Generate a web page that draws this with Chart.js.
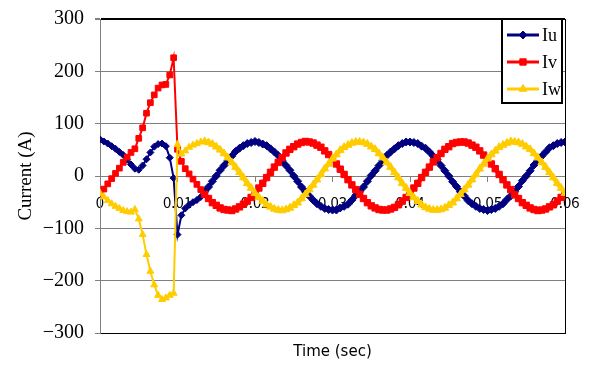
<!DOCTYPE html>
<html>
<head>
<meta charset="utf-8">
<script src="https://cdn.jsdelivr.net/npm/chart.js@4/dist/chart.umd.min.js"></script>
<style>
  html, body { margin: 0; padding: 0; background: #ffffff; }
  #wrap { width: 600px; height: 382px; }
</style>
</head>
<body>
<div id="wrap"><canvas id="c" width="600" height="382"></canvas></div>
<script>
// ---- data ----
const timeSec = [
  0,0.0005,0.001,0.0015,0.002,0.0025,0.003,0.0035,0.004,0.0045,
  0.005,0.0055,0.006,0.0065,0.007,0.0075,0.008,0.0085,0.009,0.0095,
  0.01,0.0105,0.011,0.0115,0.012,0.0125,0.013,0.0135,0.014,0.0145,
  0.015,0.0155,0.016,0.0165,0.017,0.0175,0.018,0.0185,0.019,0.0195,
  0.02,0.0205,0.021,0.0215,0.022,0.0225,0.023,0.0235,0.024,0.0245,
  0.025,0.0255,0.026,0.0265,0.027,0.0275,0.028,0.0285,0.029,0.0295,
  0.03,0.0305,0.031,0.0315,0.032,0.0325,0.033,0.0335,0.034,0.0345,
  0.035,0.0355,0.036,0.0365,0.037,0.0375,0.038,0.0385,0.039,0.0395,
  0.04,0.0405,0.041,0.0415,0.042,0.0425,0.043,0.0435,0.044,0.0445,
  0.045,0.0455,0.046,0.0465,0.047,0.0475,0.048,0.0485,0.049,0.0495,
  0.05,0.0505,0.051,0.0515,0.052,0.0525,0.053,0.0535,0.054,0.0545,
  0.055,0.0555,0.056,0.0565,0.057,0.0575,0.058,0.0585,0.059,0.0595,
  0.06
];
const iu = [
  70, 66, 62, 57, 52, 46, 40, 31, 22, 14,
  12, 20, 32, 45, 56, 61, 62, 57, 35, -4,
  -112, -75, -62, -55, -50, -46, -40, -30, -21, -10,
  0, 11, 20, 29, 38, 47, 53, 58, 62, 64,
  66, 64, 61, 58, 52, 46, 39, 29, 20, 11,
  0, -10, -21, -30, -38, -46, -53, -58, -62, -64,
  -65, -65, -61, -58, -54, -46, -37, -30, -21, -10,
  1, 10, 20, 30, 39, 46, 52, 58, 62, 65,
  65, 64, 62, 57, 53, 46, 38, 31, 20, 10,
  0, -11, -20, -30, -38, -47, -53, -58, -62, -64,
  -66, -64, -62, -58, -53, -45, -38, -30, -20, -9,
  0, 10, 21, 30, 38, 46, 54, 58, 62, 64,
  65
];
const iv = [
  -33, -25, -15, -5, 5, 15, 26, 36, 45, 52,
  72, 92, 120, 140, 155, 168, 174, 175, 193, 226,
  51, 28, 14, 4, -6, -16, -26, -35, -43, -51,
  -56, -61, -64, -65, -66, -63, -59, -54, -48, -41,
  -33, -23, -14, -3, 7, 17, 26, 35, 44, 51,
  56, 61, 64, 66, 65, 63, 59, 55, 48, 41,
  33, 23, 13, 3, -7, -17, -26, -35, -43, -51,
  -57, -61, -64, -65, -65, -63, -60, -55, -48, -41,
  -32, -23, -14, -3, 7, 17, 27, 35, 43, 51,
  56, 62, 64, 65, 65, 63, 59, 55, 48, 40,
  33, 23, 14, 3, -7, -17, -26, -36, -43, -51,
  -56, -61, -64, -66, -65, -63, -59, -55, -48, -41,
  -33
];
const iw = [
  -33, -40, -47, -53, -58, -62, -66, -68, -69, -64,
  -82, -112, -150, -182, -208, -228, -236, -233, -228, -224,
  60, 42, 48, 55, 59, 62, 65, 66, 64, 61,
  56, 50, 43, 35, 26, 17, 7, -3, -14, -23,
  -33, -41, -48, -55, -59, -63, -65, -66, -64, -61,
  -56, -51, -43, -35, -26, -17, -7, 3, 14, 23,
  33, 41, 49, 55, 59, 63, 65, 65, 64, 61,
  56, 51, 43, 35, 26, 17, 7, -3, -14, -23,
  -33, -41, -48, -55, -60, -63, -65, -65, -64, -61,
  -56, -51, -43, -35, -26, -17, -7, 3, 14, 23,
  33, 41, 48, 55, 59, 63, 66, 65, 64, 61,
  56, 51, 43, 35, 26, 17, 7, -3, -14, -23,
  -33
];
const seriesNames = ['Iu', 'Iv', 'Iw'];
const xTickLabels = ['0', '0.01', '0.02', '0.03', '0.04', '0.05', '0.06'];
const yTickLabels = ['\u2212300', '\u2212200', '\u2212100', '0', '100', '200', '300'];
const xTitle = 'Time (sec)';
const yTitle = 'Current (A)';

// ---- styles ----
const colors = ['#000080', '#ff0000', '#ffcc00'];
const styles = ['rectRot', 'rect', 'triangle'];
const radii = [3.5, 4, 4];
const GRAY = '#808080';
const SETTLED = 0.0132; // after this time the traces are drawn as a dense band

function pts(arr) { return timeSec.map((t, i) => ({ x: t, y: arr[i] })); }
const values = [iu, iv, iw];

const datasets = seriesNames.map((name, i) => ({
  label: name,
  data: pts(values[i]),
  borderColor: colors[i],
  backgroundColor: colors[i],
  borderWidth: 2,
  segment: {
    borderWidth: (c) => (c.p0.parsed.x >= SETTLED ? 4.5 : 2)
  },
  pointStyle: styles[i],
  pointRadius: (c) => (c.parsed && c.parsed.x >= SETTLED ? radii[i] + 0.5 : radii[i]),
  pointBorderWidth: 1,
  pointBackgroundColor: colors[i],
  pointBorderColor: colors[i],
  tension: 0,
  fill: false,
  order: 3 - i
}));

const framePlugin = {
  id: 'frame',
  beforeDatasetsDraw(chart) {
    const { ctx, chartArea: a } = chart;
    ctx.save();
    ctx.strokeStyle = '#000';
    ctx.lineWidth = 1;
    ctx.beginPath();
    ctx.moveTo(a.right + 0.5, a.top);
    ctx.lineTo(a.right + 0.5, a.bottom);
    ctx.stroke();
    ctx.restore();
  }
};

const legendPlugin = {
  id: 'boxLegend',
  afterDatasetsDraw(chart) {
    const { ctx, chartArea: a } = chart;
    const w = 60, h = 84;
    const x0 = a.right - 3 - w, y0 = a.top;
    ctx.save();
    ctx.fillStyle = '#fff';
    ctx.fillRect(x0, y0, w, h);
    ctx.strokeStyle = '#000';
    ctx.lineWidth = 2;
    ctx.strokeRect(x0, y0, w, h);
    chart.data.datasets.forEach((ds, i) => {
      const y = y0 + 16 + i * 27;
      ctx.strokeStyle = ds.borderColor;
      ctx.lineWidth = 3;
      ctx.beginPath();
      ctx.moveTo(x0 + 5, y);
      ctx.lineTo(x0 + 37, y);
      ctx.stroke();
      ctx.fillStyle = ds.borderColor;
      ctx.lineWidth = 1;
      if (Chart.helpers && Chart.helpers.drawPoint) {
        Chart.helpers.drawPoint(ctx, { pointStyle: ds.pointStyle, radius: radii[i] + 0.5, rotation: 0, borderWidth: 1 }, x0 + 21, y);
      }
      ctx.fillStyle = '#000';
      ctx.font = '18px "Liberation Serif"';
      ctx.textBaseline = 'middle';
      ctx.textAlign = 'left';
      ctx.fillText(ds.label, x0 + 40, y + 1);
    });
    ctx.restore();
  }
};

new Chart(document.getElementById('c'), {
  type: 'line',
  data: { datasets },
  plugins: [framePlugin, legendPlugin],
  options: {
    responsive: false,
    animation: false,
    devicePixelRatio: 1,
    layout: { padding: { top: 19, right: 35, bottom: 0, left: 0 } },
    plugins: { legend: { display: false }, tooltip: { enabled: false } },
    scales: {
      x: {
        type: 'linear',
        position: { y: 0 },
        min: 0, max: 0.06,
        afterFit(s) { s.paddingLeft = 0; s.paddingRight = 0; s.paddingTop = 0; s.paddingBottom = 0; },
        ticks: {
          stepSize: 0.01,
          autoSkip: false,
          maxRotation: 0,
          padding: 12,
          color: '#000',
          font: { family: '"Noto Sans CJK JP"', size: 15 },
          callback: (v, i) => xTickLabels[i]
        },
        grid: { drawOnChartArea: false, drawTicks: true, tickLength: 5, tickColor: GRAY },
        border: { display: true, color: GRAY, width: 1 }
      },
      x2: {
        type: 'linear',
        axis: 'x',
        position: 'bottom',
        min: 0, max: 0.06,
        afterFit(s) { s.height = 49; s.paddingLeft = 0; s.paddingRight = 0; s.paddingTop = 0; s.paddingBottom = 0; },
        ticks: { display: false },
        grid: { drawOnChartArea: false, drawTicks: false },
        border: { display: true, color: '#000', width: 1 },
        title: {
          display: true,
          text: xTitle,
          color: '#000',
          font: { family: '"DejaVu Sans"', size: 15 },
          padding: { top: 0, bottom: 21 }
        }
      },
      y: {
        type: 'linear',
        position: 'left',
        min: -300, max: 300,
        afterFit(s) { s.width = 100; s.paddingTop = 0; s.paddingBottom = 0; s.paddingLeft = 0; s.paddingRight = 0; },
        ticks: {
          stepSize: 100,
          padding: 11,
          color: '#000',
          font: { family: '"Liberation Serif"', size: 20 },
          callback: (v, i) => yTickLabels[i]
        },
        grid: {
          color: (c) => (c.tick && Math.abs(c.tick.value) === 300) ? '#000' : GRAY,
          lineWidth: (c) => (c.tick && c.tick.value === 300) ? 2 : 1,
          tickLength: 5,
          tickColor: GRAY
        },
        border: { display: true, color: GRAY, width: 1 },
        title: {
          display: true,
          text: yTitle,
          color: '#000',
          font: { family: '"Liberation Serif"', size: 19 },
          padding: { top: 15, bottom: 0 }
        }
      }
    }
  }
});
</script>
</body>
</html>
